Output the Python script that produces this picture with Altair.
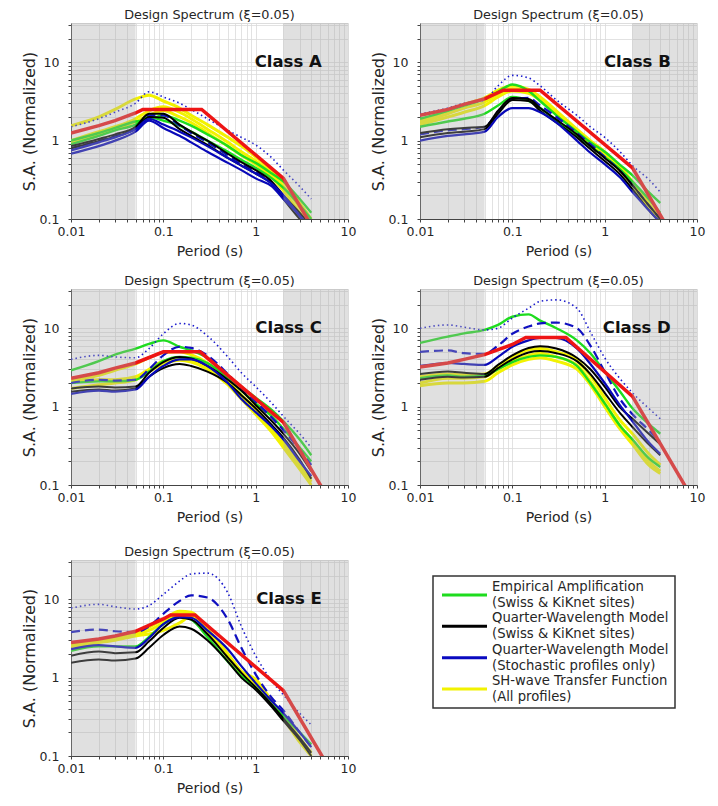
import altair as alt
import pandas as pd

# ---------------- data ----------------
T = [0.01, 0.02, 0.03, 0.05, 0.07, 0.1, 0.15, 0.2, 0.3, 0.5, 0.7, 1.0, 1.5, 2.0, 3.0, 4.0]

# Class A
A_dot = [1.5, 1.9, 2.3, 3.0, 4.2, 3.6, 3.0, 2.5, 1.9, 1.35, 1.1, 0.88, 0.6, 0.42, 0.26, 0.18]
A_yel1 = [1.55, 2.0, 2.5, 3.4, 3.8, 3.2, 2.6, 2.1, 1.6, 1.1, 0.85, 0.62, 0.42, 0.3, 0.16, 0.1]
A_yel2 = [1.0, 1.3, 1.5, 1.9, 2.4, 2.7, 2.3, 1.9, 1.4, 0.95, 0.72, 0.55, 0.38, 0.26, 0.14, 0.09]
A_yel3 = [0.95, 1.2, 1.4, 1.75, 2.1, 2.4, 2.0, 1.7, 1.25, 0.85, 0.65, 0.5, 0.34, 0.23, 0.12, 0.08]
A_grn1 = [1.0, 1.25, 1.45, 1.75, 1.85, 2.1, 1.8, 1.55, 1.2, 0.85, 0.65, 0.52, 0.38, 0.3, 0.18, 0.12]
A_grn2 = [0.9, 1.15, 1.35, 1.6, 2.0, 1.8, 1.55, 1.3, 1.0, 0.72, 0.57, 0.45, 0.33, 0.25, 0.15, 0.1]
A_dash = [0.8, 1.0, 1.15, 1.45, 2.1, 2.1, 1.55, 1.25, 0.95, 0.65, 0.5, 0.4, 0.29, 0.19, 0.11, 0.075]
A_blk1 = [0.85, 1.05, 1.2, 1.5, 2.2, 2.2, 1.6, 1.3, 1.0, 0.68, 0.53, 0.42, 0.3, 0.2, 0.12, 0.08]
A_blk2 = [0.8, 0.98, 1.12, 1.42, 2.0, 1.95, 1.4, 1.15, 0.88, 0.6, 0.48, 0.38, 0.28, 0.18, 0.1, 0.07]
A_blu1 = [0.75, 0.95, 1.1, 1.4, 1.9, 1.6, 1.3, 1.1, 0.85, 0.6, 0.48, 0.38, 0.28, 0.2, 0.11, 0.075]
A_blu2 = [0.68, 0.85, 1.0, 1.3, 1.8, 1.45, 1.15, 0.95, 0.72, 0.52, 0.42, 0.33, 0.26, 0.18, 0.11, 0.07]
A_red_T = [0.01, 0.02, 0.03, 0.05, 0.06, 0.26, 2.0, 4.0]
A_red = [1.25, 1.55, 1.8, 2.25, 2.5, 2.5, 0.33, 0.083]

# Class B
B_dot = [2.2, 2.6, 3.0, 3.3, 5.0, 6.8, 6.3, 5.0, 3.3, 2.1, 1.5, 1.1, 0.7, 0.48, 0.32, 0.22]
B_yel1 = [1.8, 2.4, 2.9, 3.5, 4.4, 5.0, 4.5, 3.6, 2.4, 1.4, 1.0, 0.72, 0.45, 0.3, 0.16, 0.1]
B_yel2 = [1.6, 2.0, 2.3, 2.8, 3.6, 4.3, 4.0, 3.3, 2.2, 1.3, 0.92, 0.65, 0.4, 0.27, 0.14, 0.09]
B_yel3 = [1.7, 2.2, 2.6, 3.1, 3.9, 4.6, 4.2, 3.4, 2.3, 1.35, 0.95, 0.68, 0.42, 0.28, 0.15, 0.1]
B_grn1 = [1.9, 2.4, 2.8, 3.4, 4.2, 5.2, 4.3, 3.2, 2.1, 1.3, 0.95, 0.72, 0.48, 0.36, 0.22, 0.16]
B_grn2 = [1.5, 1.75, 1.9, 2.2, 2.8, 3.6, 3.2, 2.6, 1.8, 1.15, 0.85, 0.62, 0.42, 0.3, 0.18, 0.12]
B_dash = [1.2, 1.35, 1.4, 1.5, 2.3, 3.4, 3.5, 2.8, 2.0, 1.25, 0.9, 0.62, 0.4, 0.27, 0.15, 0.1]
B_blk1 = [1.25, 1.4, 1.45, 1.5, 2.4, 3.5, 3.4, 2.6, 1.85, 1.2, 0.85, 0.6, 0.4, 0.27, 0.15, 0.1]
B_blk2 = [1.1, 1.25, 1.3, 1.4, 2.2, 3.3, 3.2, 2.4, 1.7, 1.1, 0.78, 0.55, 0.36, 0.24, 0.13, 0.09]
B_blu1 = [1.0, 1.15, 1.2, 1.3, 2.0, 2.6, 2.6, 2.3, 1.7, 1.0, 0.7, 0.5, 0.33, 0.22, 0.13, 0.09]
B_red_T = [0.01, 0.02, 0.03, 0.05, 0.08, 0.2, 2.0, 5.0]
B_red = [2.1, 2.5, 2.9, 3.4, 4.4, 4.4, 0.45, 0.072]

# Class C
C_dot = [4.0, 4.5, 4.3, 4.2, 5.5, 8.5, 11.5, 11.0, 8.0, 4.3, 2.7, 1.8, 1.1, 0.75, 0.45, 0.3]
C_yel1 = [2.2, 2.5, 2.9, 3.5, 4.2, 4.9, 5.0, 4.6, 3.6, 2.1, 1.4, 0.95, 0.55, 0.36, 0.19, 0.12]
C_yel2 = [2.1, 2.2, 2.2, 2.4, 3.0, 3.8, 4.0, 3.8, 3.1, 2.0, 1.3, 0.85, 0.5, 0.33, 0.18, 0.11]
C_yel3 = [1.7, 1.9, 2.0, 2.2, 2.8, 3.5, 3.9, 3.7, 3.0, 1.9, 1.25, 0.8, 0.47, 0.3, 0.16, 0.1]
C_grn1 = [2.9, 3.8, 4.6, 5.5, 6.3, 7.0, 5.8, 5.2, 4.2, 2.5, 1.8, 1.3, 0.9, 0.65, 0.38, 0.24]
C_grn2 = [2.0, 2.1, 2.1, 2.2, 2.8, 3.8, 4.3, 4.2, 3.6, 2.3, 1.6, 1.1, 0.75, 0.52, 0.3, 0.2]
C_dash = [2.0, 2.2, 2.15, 2.2, 3.0, 4.5, 5.8, 5.6, 4.5, 2.6, 1.7, 1.15, 0.72, 0.5, 0.28, 0.18]
C_blk1 = [1.7, 1.8, 1.75, 1.8, 2.7, 3.7, 4.3, 4.1, 3.3, 2.2, 1.6, 1.05, 0.65, 0.45, 0.25, 0.15]
C_blk2 = [1.55, 1.65, 1.6, 1.7, 2.4, 3.1, 3.5, 3.3, 2.8, 2.0, 1.4, 0.95, 0.58, 0.4, 0.21, 0.12]
C_blu1 = [1.45, 1.6, 1.55, 1.65, 2.4, 3.3, 4.0, 4.0, 3.3, 2.0, 1.25, 0.85, 0.55, 0.38, 0.2, 0.13]
C_red_T = [0.01, 0.02, 0.03, 0.05, 0.1, 0.25, 2.0, 6.0]
C_red = [2.3, 2.7, 3.1, 3.6, 5.0, 5.0, 0.63, 0.07]

# Class D
D_dot = [10, 11, 10.3, 9.5, 10, 13.5, 18, 22, 23, 18, 9, 4.2, 2.2, 1.5, 0.95, 0.7]
D_yel1 = [2.0, 2.3, 2.3, 2.4, 3.0, 3.8, 4.5, 4.8, 4.3, 3.4, 2.1, 1.1, 0.55, 0.37, 0.2, 0.15]
D_yel2 = [1.85, 2.0, 2.0, 2.1, 2.7, 3.4, 4.0, 4.2, 3.8, 3.0, 1.9, 1.0, 0.5, 0.33, 0.18, 0.14]
D_yel3 = [2.4, 2.6, 2.55, 2.6, 3.3, 4.3, 5.3, 5.5, 5.0, 3.9, 2.5, 1.3, 0.65, 0.45, 0.25, 0.18]
D_grn1 = [6.5, 7.8, 8.6, 9.5, 11, 14, 15, 12.5, 10, 7.0, 4.8, 2.8, 1.5, 0.95, 0.6, 0.45]
D_grn2 = [2.3, 2.5, 2.4, 2.5, 3.0, 3.7, 4.3, 4.5, 4.3, 3.3, 2.0, 1.1, 0.55, 0.38, 0.22, 0.17]
D_dash = [5.0, 5.2, 4.8, 4.7, 6.0, 8.5, 10.5, 11.5, 11.8, 10, 6, 2.8, 1.2, 0.8, 0.5, 0.35]
D_blk1 = [2.6, 2.8, 2.7, 2.6, 3.4, 4.5, 5.6, 5.9, 5.5, 4.2, 3.0, 1.8, 0.95, 0.7, 0.45, 0.33]
D_blk2 = [2.2, 2.4, 2.35, 2.4, 3.1, 4.0, 4.9, 5.1, 4.8, 3.8, 2.6, 1.5, 0.8, 0.55, 0.33, 0.24]
D_blu1 = [3.3, 3.6, 3.5, 3.4, 4.3, 5.8, 7.0, 7.5, 7.5, 5.5, 3.5, 2.0, 1.0, 0.65, 0.35, 0.25]
D_red_T = [0.01, 0.02, 0.03, 0.05, 0.1, 0.14, 0.38, 2.0, 8.0]
D_red = [3.2, 3.6, 4.0, 4.6, 6.2, 7.6, 7.6, 1.35, 0.084]

# Class E
E_dot = [7.7, 8.6, 8.0, 7.5, 8.3, 11.5, 17, 21, 21.5, 12, 4.5, 1.9, 0.9, 0.6, 0.35, 0.25]
E_yel1 = [2.7, 3.0, 3.3, 3.7, 4.4, 5.5, 7.0, 6.8, 4.2, 2.0, 1.2, 0.8, 0.45, 0.3, 0.16, 0.1]
E_yel2 = [2.5, 2.8, 3.0, 3.4, 3.6, 4.0, 5.0, 6.0, 4.0, 1.8, 1.15, 0.85, 0.48, 0.3, 0.15, 0.1]
E_yel3 = [2.6, 2.9, 3.1, 3.5, 4.0, 5.0, 6.5, 6.3, 4.1, 1.9, 1.2, 0.95, 0.5, 0.32, 0.17, 0.11]
E_grn1 = [2.2, 2.5, 2.5, 2.5, 3.3, 4.8, 6.0, 5.5, 3.3, 1.6, 1.05, 0.75, 0.45, 0.32, 0.2, 0.14]
E_dash = [3.8, 4.1, 3.9, 3.8, 4.5, 6.5, 9.5, 11.2, 10.5, 5.5, 2.4, 1.1, 0.55, 0.38, 0.2, 0.13]
E_blk1 = [1.55, 1.7, 1.65, 1.75, 2.4, 3.5, 4.5, 4.2, 3.0, 1.6, 1.0, 0.7, 0.42, 0.28, 0.16, 0.1]
E_blk2 = [1.9, 2.15, 2.05, 2.1, 2.9, 4.3, 5.8, 5.5, 3.6, 1.8, 1.15, 0.75, 0.45, 0.3, 0.17, 0.11]
E_blu1 = [2.3, 2.6, 2.5, 2.4, 3.2, 4.8, 5.9, 5.8, 4.0, 2.3, 1.4, 0.85, 0.5, 0.35, 0.2, 0.13]
E_red_T = [0.01, 0.02, 0.03, 0.05, 0.1, 0.12, 0.22, 2.0, 6.0]
E_red = [2.8, 3.1, 3.4, 3.9, 5.6, 6.3, 6.3, 0.68, 0.076]

PANELS = [
    ("Class A", {"yel1": A_yel1, "yel2": A_yel2, "yel3": A_yel3, "grn1": A_grn1, "grn2": A_grn2,
                 "dot": A_dot, "dash": A_dash, "blk1": A_blk1, "blk2": A_blk2, "blu1": A_blu1, "blu2": A_blu2},
     A_red_T, A_red),
    ("Class B", {"yel1": B_yel1, "yel2": B_yel2, "yel3": B_yel3, "grn1": B_grn1, "grn2": B_grn2,
                 "dot": B_dot, "dash": B_dash, "blk1": B_blk1, "blk2": B_blk2, "blu1": B_blu1},
     B_red_T, B_red),
    ("Class C", {"yel1": C_yel1, "yel2": C_yel2, "yel3": C_yel3, "grn1": C_grn1, "grn2": C_grn2,
                 "dot": C_dot, "dash": C_dash, "blk1": C_blk1, "blk2": C_blk2, "blu1": C_blu1},
     C_red_T, C_red),
    ("Class D", {"yel1": D_yel1, "yel2": D_yel2, "yel3": D_yel3, "grn1": D_grn1, "grn2": D_grn2,
                 "dot": D_dot, "dash": D_dash, "blk1": D_blk1, "blk2": D_blk2, "blu1": D_blu1},
     D_red_T, D_red),
    ("Class E", {"yel1": E_yel1, "yel2": E_yel2, "yel3": E_yel3, "grn1": E_grn1,
                 "dot": E_dot, "dash": E_dash, "blk1": E_blk1, "blk2": E_blk2, "blu1": E_blu1},
     E_red_T, E_red),
]

SHADE_LO = [0.01, 2.0]
SHADE_HI = [0.05, 10.0]

legend_names = ["Empirical Amplification", "Quarter-Wavelength Model",
                "Quarter-Wavelength Model", "SH-wave Transfer Function"]
legend_subs = ["(Swiss & KiKnet sites)", "(Swiss & KiKnet sites)",
               "(Stochastic profiles only)", "(All profiles)"]
legend_colors = ["#1edc1e", "#000000", "#0a0ac0", "#f2f200"]

# ---------------- style ----------------
FONT = "DejaVu Sans"
TXT = "#262626"
STYLE = {
    "yel": dict(color="#f2f200", strokeWidth=3.0, interpolate="monotone"),
    "grn": dict(color="#1edc1e", strokeWidth=2.4, interpolate="monotone"),
    "dot": dict(color="#1a1acc", strokeWidth=1.6, strokeDash=[1.5, 3], interpolate="monotone"),
    "dash": dict(color="#1010c0", strokeWidth=2.2, strokeDash=[9, 5], interpolate="monotone"),
    "blk": dict(color="#000000", strokeWidth=2.0, interpolate="monotone"),
    "blu": dict(color="#0808b8", strokeWidth=2.2, interpolate="monotone"),
    "red": dict(color="#ee1515", strokeWidth=3.5),
}
ORDER = ["yel", "grn", "dot", "dash", "blk", "blu", "red"]

PW, PH = 277, 196
XV = [round(m * 10.0 ** e, 4) for e in (-2, -1, 0) for m in range(1, 10)] + [10.0]
YV = [round(m * 10.0 ** e, 4) for e in (-1, 0) for m in range(1, 10)] + [10.0, 20.0, 30.0]

xscale = alt.Scale(type="log", domain=[0.01, 10], nice=False)
yscale = alt.Scale(type="log", domain=[0.1, 31.62], nice=False)

xaxis = alt.Axis(values=XV, title="Period (s)",
                 labelExpr="datum.value==0.01?'0.01':datum.value==0.1?'0.1':datum.value==1?'1':datum.value==10?'10':''",
                 labelOverlap=False, grid=True, gridColor="#dadada", gridWidth=0.8,
                 domainColor="#444", tickColor="#444", tickSize=3, labelPadding=3,
                 labelFontSize=12.5, titleFontSize=14, labelColor=TXT, titleColor=TXT,
                 titleFontWeight="normal", labelFont=FONT, titleFont=FONT, titlePadding=7,
                 labelFlush=False)
yaxis = alt.Axis(values=YV, title="S.A. (Normalized)",
                 labelExpr="datum.value==0.1?'0.1':datum.value==1?'1':datum.value==10?'10':''",
                 labelOverlap=False, grid=True, gridColor="#dadada", gridWidth=0.8,
                 domainColor="#444", tickColor="#444", tickSize=3, labelPadding=9,
                 labelFontSize=12.5, titleFontSize=16, labelColor=TXT, titleColor=TXT,
                 titleFontWeight="normal", labelFont=FONT, titleFont=FONT, titlePadding=2,
                 labelFlush=False)


def X(field):
    return alt.X(field, scale=xscale, axis=xaxis)


def Y(field):
    return alt.Y(field, scale=yscale, axis=yaxis)


def panel(label, series, red_T, red_v):
    rows = []
    for name, vals in series.items():
        kind = name.rstrip("0123456789")
        for t, v in zip(T, vals):
            rows.append({"T": t, "SA": v, "series": name, "kind": kind})
    for t, v in zip(red_T, red_v):
        rows.append({"T": t, "SA": v, "series": "red", "kind": "red"})
    df = pd.DataFrame(rows)

    layers = []
    for k in ORDER:
        sub = df[df["kind"] == k]
        if sub.empty:
            continue
        layers.append(
            alt.Chart(sub).mark_line(clip=True, strokeCap="butt", **STYLE[k]).encode(
                x=X("T:Q"), y=Y("SA:Q"), detail="series:N", order="T:Q"))

    shade = pd.DataFrame({"lo": SHADE_LO, "hi": SHADE_HI, "ylo": [0.1, 0.1], "yhi": [31.62, 31.62]})
    layers.append(alt.Chart(shade).mark_rect(color="#a8a8a8", opacity=0.36).encode(
        x=X("lo:Q"), x2="hi:Q", y=Y("ylo:Q"), y2="yhi:Q"))

    lab = pd.DataFrame({"T": [5.2], "SA": [10.0], "lab": [label]})
    layers.append(alt.Chart(lab).mark_text(align="right", baseline="middle", fontSize=16.5,
                                           fontWeight="bold", font=FONT, color="#111").encode(
        x=X("T:Q"), y=Y("SA:Q"), text="lab:N"))

    return alt.layer(*layers).properties(
        width=PW, height=PH,
        title=alt.TitleParams("Design Spectrum (ξ=0.05)", fontSize=12.8, font=FONT,
                              fontWeight="normal", color=TXT, offset=-3))


# legend panel
LEG_DX = 63
LEG_DY = 16
leg_df = pd.DataFrame({"idx": [0, 1, 2, 3], "name": legend_names, "sub": legend_subs,
                       "color": legend_colors})
ypos = alt.Y("idx:O", axis=None,
             scale=alt.Scale(type="point", range=[LEG_DY + 19, LEG_DY + 113], padding=0))
box = alt.Chart(pd.DataFrame({"a": [0]})).mark_rect(fill="white", stroke="#333", strokeWidth=1.5).encode(
    x=alt.value(LEG_DX), x2=alt.value(LEG_DX + 242), y=alt.value(LEG_DY), y2=alt.value(LEG_DY + 132))
rules = alt.Chart(leg_df).mark_rule(strokeWidth=3).encode(
    x=alt.value(LEG_DX + 9), x2=alt.value(LEG_DX + 54), y=ypos,
    color=alt.Color("color:N", scale=None))
t1 = alt.Chart(leg_df).mark_text(align="left", baseline="middle", dy=-8, fontSize=13.2,
                                 font=FONT, color=TXT).encode(
    x=alt.value(LEG_DX + 59), y=ypos, text="name:N")
t2 = alt.Chart(leg_df).mark_text(align="left", baseline="middle", dy=8, fontSize=13.2,
                                 font=FONT, color=TXT).encode(
    x=alt.value(LEG_DX + 59), y=ypos, text="sub:N")
legend = alt.layer(box, rules, t1, t2).properties(
    width=LEG_DX + 250, height=PH, view=alt.ViewConfig(stroke="transparent"))

pA, pB, pC, pD, pE = [panel(*p) for p in PANELS]

H_SP = 12
chart = alt.vconcat(
    alt.vconcat(
        alt.hconcat(pA, pB, spacing=H_SP),
        alt.hconcat(pC, pD, spacing=H_SP),
        spacing=15),
    alt.hconcat(pE, legend, spacing=H_SP),
    spacing=20,
).properties(
    padding={"left": 12, "top": 0, "right": 2, "bottom": 2}
).configure_view(stroke="#444", strokeWidth=1).configure(font=FONT, background="white")

chart.save("out.html", embed_options={"renderer": "svg", "actions": False})
